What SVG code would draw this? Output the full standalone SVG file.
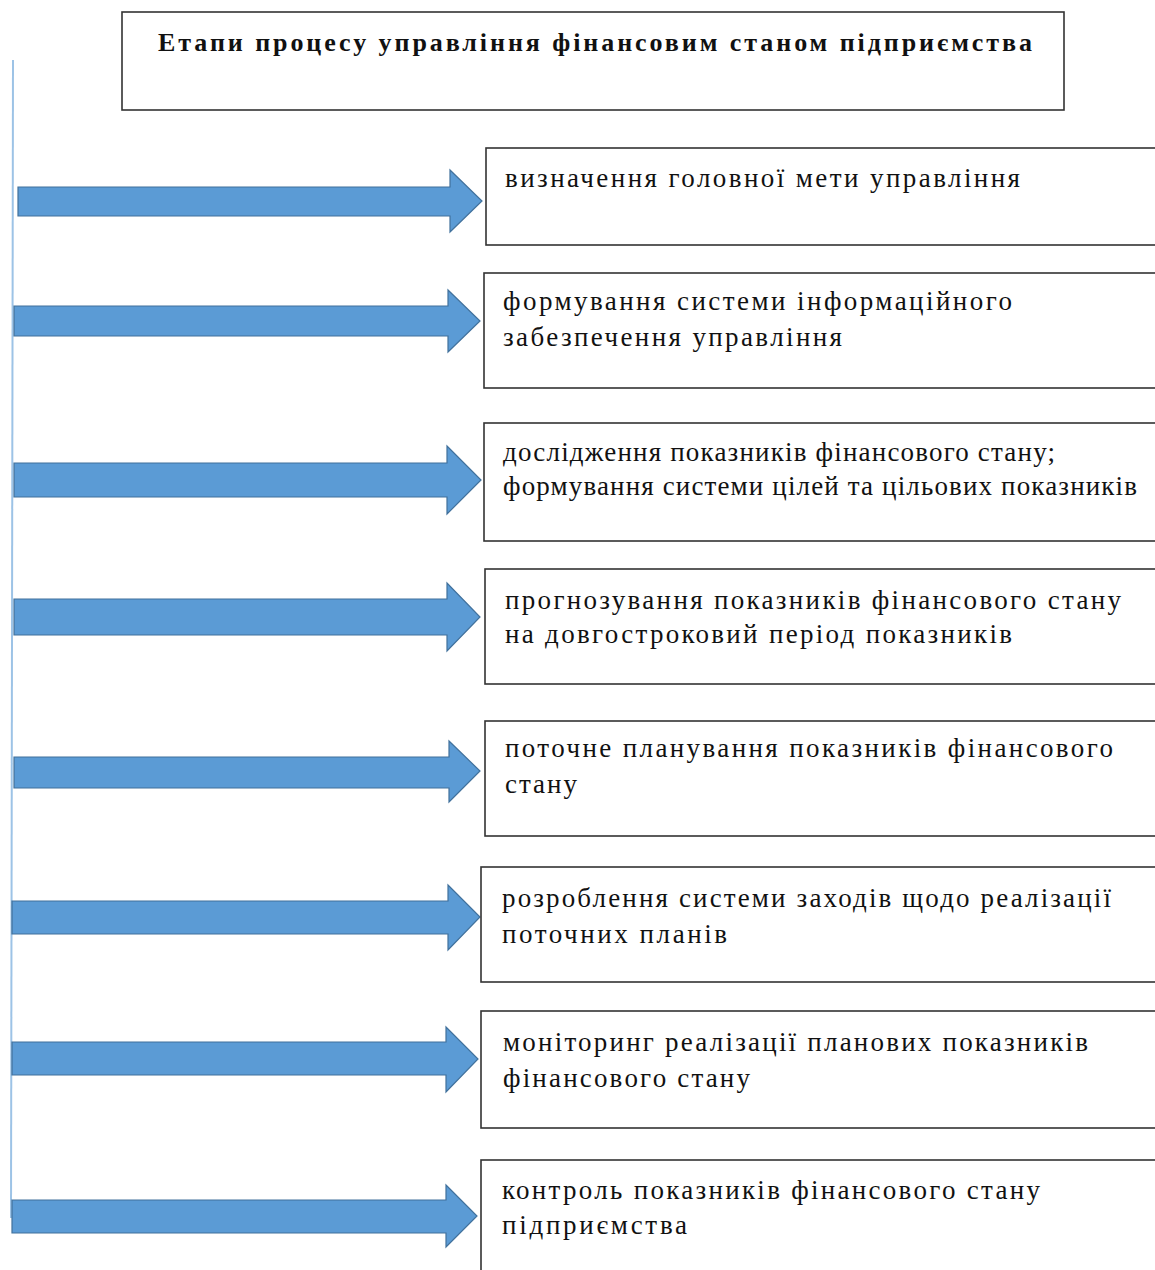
<svg xmlns="http://www.w3.org/2000/svg" width="1155" height="1270" viewBox="0 0 1155 1270">
<style>
.box{fill:#fff;stroke:#333;stroke-width:1.6}
.t{font-family:"Liberation Serif","Times New Roman",serif;font-size:27px;fill:#111}
.title{font-family:"Liberation Serif","Times New Roman",serif;font-size:26px;font-weight:bold;fill:#111}
.arr{fill:#5b9bd5;stroke:#41719c;stroke-width:1.2}
</style>
<rect width="1155" height="1270" fill="#fff"/>
<g id="title">
<rect class="box" x="122" y="12" width="942" height="98"/>
<text class="title" x="158" y="51" textLength="874" lengthAdjust="spacing">Етапи процесу управління фінансовим станом підприємства</text>
</g>
<g id="connectors">
<line x1="13" y1="60" x2="11" y2="1218" stroke="#9dc3e6" stroke-width="2"/>
<path class="arr" d="M18,187 H450 V170 L482,201 L450,232 V216 H18 Z"/>
<path class="arr" d="M14,306 H448 V290 L480,321 L448,352 V336 H14 Z"/>
<path class="arr" d="M14,463 H447 V446 L481,480 L447,514 V497 H14 Z"/>
<path class="arr" d="M14,599 H447 V583 L480,617 L447,651 V635 H14 Z"/>
<path class="arr" d="M14,757 H449 V741 L480,771 L449,802 V788 H14 Z"/>
<path class="arr" d="M12,901 H448 V885 L480,917 L448,950 V934 H12 Z"/>
<path class="arr" d="M12,1042 H446 V1027 L478,1059 L446,1092 V1075 H12 Z"/>
<path class="arr" d="M12,1200 H446 V1185 L477,1216 L446,1247 V1233 H12 Z"/>
</g>
<g id="stage1">
<rect class="box" x="486" y="148" width="680" height="97"/>
<text class="t" x="505" y="187" textLength="515" lengthAdjust="spacing">визначення головної мети управління</text>
</g>
<g id="stage2">
<rect class="box" x="484" y="273" width="682" height="115"/>
<text class="t" x="503" y="310" textLength="509" lengthAdjust="spacing">формування системи інформаційного</text>
<text class="t" x="503" y="346" textLength="339" lengthAdjust="spacing">забезпечення управління</text>
</g>
<g id="stage3">
<rect class="box" x="484" y="423" width="682" height="118"/>
<text class="t" x="503" y="461" textLength="552" lengthAdjust="spacing">дослідження показників фінансового стану;</text>
<text class="t" x="503" y="495" textLength="634" lengthAdjust="spacing">формування системи цілей та цільових показників</text>
</g>
<g id="stage4">
<rect class="box" x="485" y="569" width="681" height="115"/>
<text class="t" x="505" y="609" textLength="616" lengthAdjust="spacing">прогнозування показників фінансового стану</text>
<text class="t" x="505" y="643" textLength="507" lengthAdjust="spacing">на довгостроковий період показників</text>
</g>
<g id="stage5">
<rect class="box" x="485" y="721" width="681" height="115"/>
<text class="t" x="505" y="757" textLength="608" lengthAdjust="spacing">поточне планування показників фінансового</text>
<text class="t" x="505" y="793" textLength="72" lengthAdjust="spacing">стану</text>
</g>
<g id="stage6">
<rect class="box" x="481" y="867" width="685" height="115"/>
<text class="t" x="502" y="907" textLength="609" lengthAdjust="spacing">розроблення системи заходів щодо реалізації</text>
<text class="t" x="502" y="943" textLength="225" lengthAdjust="spacing">поточних планів</text>
</g>
<g id="stage7">
<rect class="box" x="481" y="1011" width="685" height="117"/>
<text class="t" x="503" y="1051" textLength="585" lengthAdjust="spacing">моніторинг реалізації планових показників</text>
<text class="t" x="503" y="1087" textLength="247" lengthAdjust="spacing">фінансового стану</text>
</g>
<g id="stage8">
<rect class="box" x="481" y="1160" width="685" height="130"/>
<text class="t" x="502" y="1199" textLength="538" lengthAdjust="spacing">контроль показників фінансового стану</text>
<text class="t" x="502" y="1234" textLength="185" lengthAdjust="spacing">підприємства</text>
</g>
</svg>
